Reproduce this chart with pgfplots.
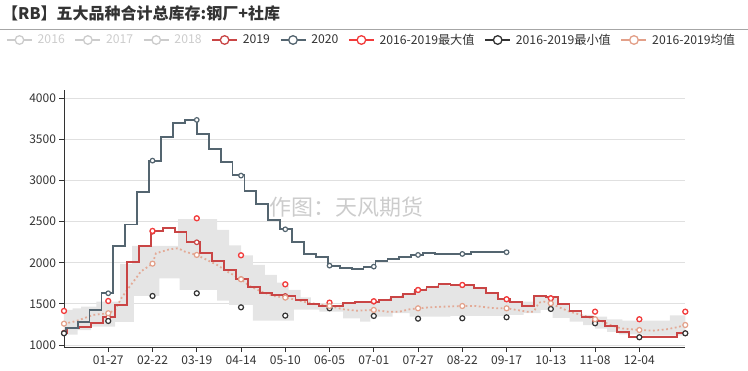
\documentclass[border=0pt]{standalone}
\usepackage{fontspec}
\setmainfont{Noto Sans CJK SC}
\usepackage{pgfplots}
\usepackage{pgfplotstable}
\pgfplotsset{compat=1.18}

\definecolor{cA}{HTML}{C94545}
\definecolor{cB}{HTML}{546570}
\definecolor{cMax}{HTML}{F23B3B}
\definecolor{cMin}{HTML}{333333}
\definecolor{cAvg}{HTML}{E3A089}
\definecolor{cBand}{HTML}{E5E5E5}
\definecolor{cGrey}{HTML}{CCCCCC}
\definecolor{cText}{HTML}{333333}

% 2019 weekly (day index of 2020 calendar, value)
\pgfplotstableread{
x y
0 1150
2 1203
9 1223
16 1264
23 1337
30 1487
37 2010
44 2200
51 2385
58 2427
65 2371
72 2249
80 2115
87 2022
94 1912
101 1800
108 1702
115 1630
122 1612
129 1596
136 1545
143 1495
150 1474
157 1474
164 1515
171 1523
178 1527
185 1547
192 1580
199 1620
206 1669
213 1702
220 1742
227 1730
241 1690
248 1629
255 1556
262 1519
269 1474
276 1596
283 1588
290 1495
297 1417
304 1344
311 1290
318 1230
325 1160
332 1100
339 1094
360 1142
365 1142
}\tA

% 2020 weekly
\pgfplotstableread{
x y
0 1142
1 1203
8 1284
15 1426
22 1629
29 2208
36 2465
43 2865
50 3242
57 3527
64 3697
71 3737
78 3563
85 3381
92 3230
99 3063
106 2873
113 2711
120 2521
127 2407
134 2257
141 2107
148 2067
155 1965
162 1933
169 1921
176 1953
183 2022
190 2046
197 2067
204 2095
211 2123
218 2107
239 2132
260 2132
}\tB

% average
\pgfplotstableread{
x y
0 1259
5 1280
9 1304
17 1365
26 1386
30 1426
34 1580
40 1750
43 1831
45 1892
52 1989
54 2115
62 2164
67 2176
71 2135
78 2095
84 2034
90 1973
96 1892
104 1799
109 1718
116 1649
123 1596
130 1576
137 1547
143 1515
150 1495
156 1474
164 1434
172 1417
182 1426
190 1405
197 1405
203 1434
208 1446
215 1458
223 1466
234 1474
242 1474
248 1458
254 1446
260 1446
266 1426
272 1405
276 1405
279 1515
282 1527
286 1507
290 1466
297 1405
304 1365
312 1313
315 1300
321 1243
327 1203
338 1182
346 1174
354 1191
360 1215
365 1243
}\tAvg

% values at the marked days
\pgfplotstableread{
x a b mx mn av
0 1150 1142 1414 1142 1259
26 1337 1629 1535 1292 1386
52 2378 3242 2387 1596 1989
78 2249 3737 2541 1629 2095
104 1800 3060 2091 1458 1799
130 1596 2407 1738 1357 1576
156 1474 1965 1515 1446 1474
182 1527 1953 1532 1353 1426
208 1669 2095 1669 1320 1446
234 1730 2107 1730 1325 1474
260 1556 2128 1556 1337 1446
286 1568 nan 1568 1438 1507
312 1290 nan 1405 1264 1313
338 1094 nan 1313 1094 1182
365 1142 nan 1405 1142 1243
}\tMk

\begin{document}
\begin{tikzpicture}
\useasboundingbox (0pt,0pt) rectangle (748pt,371pt);
\node[anchor=west, inner sep=0pt, text=cText, font=\fontsize{16}{16}\selectfont\bfseries] at (2pt,358pt) {【RB】五大品种合计总库存:钢厂+社库};
\draw[color=black!35, line width=0.8pt] (0pt,341.5pt) -- (748pt,341.5pt);
\begin{axis}[
  at={(64pt,23.3pt)}, anchor=south west,
  scale only axis, width=621.3pt, height=257.7pt,
  xmin=0, xmax=365, ymin=967, ymax=4101,
  axis x line*=bottom, axis y line*=left,
  axis line style={draw=cText, line width=0.9pt},
  xtick={26,52,78,104,130,156,182,208,234,260,286,312,338},
  xticklabels={01-27,02-22,03-19,04-14,05-10,06-05,07-01,07-27,08-22,09-17,10-13,11-08,12-04},
  ytick={1000,1500,2000,2500,3000,3500,4000},
  scaled y ticks=false,
  ymajorgrids, grid style={draw=black!12, line width=0.8pt},
  tick align=outside, major tick length=4.5pt,
  tick style={draw=cText, line width=0.9pt},
  yticklabel style={/pgf/number format/1000 sep={}, /pgf/number format/assume math mode=true, font=\fontsize{12}{12}\selectfont, text=cText},
  xticklabel style={font=\fontsize{12}{12}\selectfont, text=cText},
  clip=false,
  legend columns=-1,
  legend style={at={(-0.0933,1.194)}, anchor=west, draw=none, fill=none, inner sep=0pt,
    font=\fontsize{12.2}{12.2}\selectfont,
    nodes={inner sep=0pt},
    /tikz/every odd column/.append style={column sep=5pt},
    /tikz/every even column/.append style={column sep=9.8pt}},
  legend image code/.code={
    \draw[#1] (0pt,0pt) -- (25pt,0pt);
    \draw[#1, fill=white, line width=1.3pt] (12.5pt,0pt) circle (4.3pt);
  },
]
% band between the 2016-2019 min and max (step outline: upper forward, lower backward)
\addplot[fill=cBand, draw=none, forget plot] coordinates {
(0,1426) (5,1426) (5,1446) (10,1446) (10,1466) (19,1466) (19,1527) (33,1527) (33,1985) (40,1985) (40,2205) (67,2205) (67,2530) (90,2530) (90,2400) (97,2400) (97,2210) (104,2210) (104,2091) (111,2091) (111,1973) (118,1973) (118,1852) (125,1852) (125,1758) (132,1758) (132,1669) (139,1669) (139,1580) (145,1580) (145,1510) (156,1510) (156,1480) (163,1480) (163,1505) (170,1505) (170,1513) (177,1513) (177,1517) (184,1517) (184,1537) (191,1537) (191,1570) (198,1570) (198,1610) (205,1610) (205,1659) (212,1659) (212,1692) (219,1692) (219,1732) (226,1732) (226,1720) (241,1720) (241,1680) (248,1680) (248,1619) (255,1619) (255,1546) (260,1546) (260,1527) (276,1527) (276,1586) (290,1586) (290,1500) (297,1500) (297,1420) (304,1420) (304,1365) (311,1365) (311,1344) (319,1344) (319,1310) (328,1310) (328,1296) (356,1296) (356,1360) (365,1360)
(365,1115) (340,1115) (340,1130) (326,1130) (326,1160) (319,1160) (319,1200) (312,1200) (312,1240) (305,1240) (305,1285) (297,1285) (297,1330) (287,1330) (287,1426) (280,1426) (280,1386) (270,1386) (270,1365) (260,1365) (260,1355) (227,1355) (227,1344) (203,1344) (203,1386) (193,1386) (193,1344) (180,1344) (180,1284) (174,1284) (174,1325) (164,1325) (164,1405) (150,1405) (150,1430) (135,1430) (135,1295) (111,1295) (111,1487) (97,1487) (97,1540) (90,1540) (90,1669) (68,1669) (68,1811) (56,1811) (56,1596) (41,1596) (41,1280) (30,1280) (30,1223) (16,1223) (16,1180) (8,1180) (8,1125) (0,1125)
};

\addplot[color=cAvg, line width=1.8pt, dash pattern=on 1.8pt off 2.6pt, opacity=0.85, forget plot] table {\tAvg};
\addplot[const plot, color=cA, line width=1.8pt, forget plot] table {\tA};
\addplot[const plot, color=cB, line width=1.8pt, forget plot] table {\tB};

\addplot[only marks, mark=*, mark size=2.3pt, mark options={draw=cA, fill=white, line width=1.2pt}, forget plot] table[x=x, y=a] {\tMk};
\addplot[only marks, mark=*, mark size=2.3pt, mark options={draw=cB, fill=white, line width=1.2pt}, forget plot] table[x=x, y=b] {\tMk};
\addplot[only marks, mark=*, mark size=2.5pt, mark options={draw=cMax, fill=white, line width=1.3pt}, forget plot] table[x=x, y=mx] {\tMk};
\addplot[only marks, mark=*, mark size=2.5pt, mark options={draw=cMin, fill=white, line width=1.2pt}, forget plot] table[x=x, y=mn] {\tMk};
\addplot[only marks, mark=*, mark size=2.5pt, mark options={draw=cAvg, fill=white, line width=1.2pt}, forget plot] table[x=x, y=av] {\tMk};

\node[text=black!20, font=\fontsize{22}{22}\selectfont] at (axis cs:165.7,2673) {作图：天风期货};

\addlegendimage{draw=cGrey, line width=1.5pt}
\addlegendentry{\textcolor{cGrey}{2016}}
\addlegendimage{draw=cGrey, line width=1.5pt}
\addlegendentry{\textcolor{cGrey}{2017}}
\addlegendimage{draw=cGrey, line width=1.5pt}
\addlegendentry{\textcolor{cGrey}{2018}}
\addlegendimage{draw=cA, line width=1.5pt}
\addlegendentry{\textcolor{cText}{2019}}
\addlegendimage{draw=cB, line width=1.5pt}
\addlegendentry{\textcolor{cText}{2020}}
\addlegendimage{draw=cMax, line width=1.5pt}
\addlegendentry{\textcolor{cText}{2016-2019最大值}}
\addlegendimage{draw=cMin, line width=1.5pt}
\addlegendentry{\textcolor{cText}{2016-2019最小值}}
\addlegendimage{draw=cAvg, line width=1.5pt}
\addlegendentry{\textcolor{cText}{2016-2019均值}}
\end{axis}
\end{tikzpicture}
\end{document}
